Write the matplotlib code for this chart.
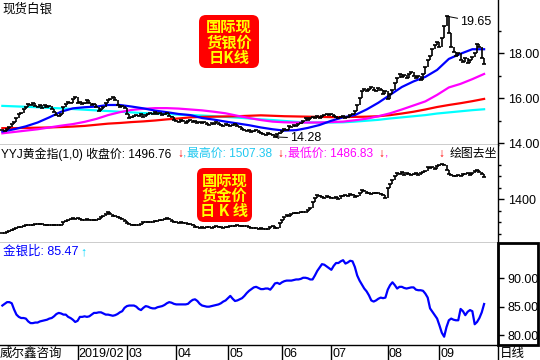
import numpy as np
import matplotlib.pyplot as plt
from matplotlib.patches import FancyBboxPatch, Rectangle
from matplotlib.lines import Line2D
from matplotlib.transforms import blended_transform_factory

plt.rcParams['font.family'] = ['Liberation Sans', 'Noto Sans CJK SC', 'DejaVu Sans']

# =============================================================================
# Data (daily bars, mid Dec 2018 -> end Sep 2019)
# =============================================================================
silver_close = [
    14.60, 14.55, 14.65, 14.70, 14.85, 14.95, 15.10, 15.30, 15.35, 15.50,
    15.60, 15.75, 15.70, 15.80, 15.65, 15.60, 15.70, 15.55, 15.70, 15.60,
    15.65, 15.50, 15.40, 15.25, 15.20, 15.30, 15.60, 15.75, 15.85, 15.80,
    15.95, 16.05, 15.80, 15.85, 15.75, 15.80, 15.90, 15.80, 15.70, 15.75,
    15.60, 15.45, 15.50, 15.60, 15.80, 15.90, 15.95, 16.05, 15.90, 15.70,
    15.60, 15.65, 15.55, 15.30, 15.10, 15.15, 15.20, 15.25, 15.20, 15.30,
    15.15, 15.25, 15.30, 15.35, 15.30, 15.40, 15.30, 15.35, 15.25, 15.30,
    15.35, 15.20, 15.15, 15.05, 15.00, 14.95, 15.05, 15.00, 14.90, 15.00,
    15.05, 14.95, 15.00, 14.90, 14.95, 14.90, 14.95, 14.85, 14.80, 14.90,
    14.85, 14.95, 14.85, 14.80, 14.75, 14.85, 14.80, 14.75, 14.80, 14.85,
    14.75, 14.70, 14.65, 14.60, 14.55, 14.60, 14.50, 14.55, 14.60, 14.50,
    14.45, 14.40, 14.35, 14.45, 14.40, 14.35, 14.28, 14.40, 14.45, 14.55,
    14.65, 14.60, 14.75, 14.70, 14.80, 14.75, 14.85, 14.90, 15.00, 15.10,
    15.05, 15.10, 15.15, 15.10, 15.20, 15.10, 15.20, 15.25, 15.30, 15.25,
    15.30, 15.20, 15.15, 15.10, 15.15, 15.20, 15.10, 15.15, 15.25, 15.30,
    15.45, 15.70, 16.00, 16.30, 16.40, 16.30, 16.40, 16.50, 16.35, 16.30,
    16.45, 16.35, 16.20, 16.30, 15.95, 16.20, 16.35, 16.70, 16.90, 17.10,
    16.95, 17.05, 16.90, 17.10, 17.15, 17.00, 16.90, 17.00, 16.80, 17.10,
    17.40, 17.70, 17.90, 18.20, 18.35, 18.50, 18.30, 18.70, 19.20, 19.65,
    18.90, 18.30, 18.05, 17.90, 18.00, 17.70, 17.60, 17.80, 17.55, 17.70,
    17.85, 18.00, 18.40, 18.30, 17.80, 17.51,
]

# moving averages, one value every 5 bars
ma_blue = [14.52, 14.62, 14.75, 14.92, 15.15, 15.40, 15.55, 15.60, 15.63, 15.70,
           15.70, 15.63, 15.55, 15.45, 15.38, 15.30, 15.25, 15.12, 15.05, 14.96,
           14.88, 14.80, 14.70, 14.62, 14.56, 14.58, 14.68, 14.81, 15.00, 15.15,
           15.25, 15.50, 15.80, 16.15, 16.50, 16.75, 16.95, 17.26, 17.75, 17.98,
           18.18, 18.18]
ma_magenta = [14.44, 14.50, 14.56, 14.62, 14.70, 14.78, 14.85, 14.95, 15.08, 15.25,
              15.38, 15.48, 15.53, 15.56, 15.56, 15.54, 15.50, 15.46, 15.40, 15.33,
              15.22, 15.12, 15.03, 14.96, 14.93, 14.92, 14.92, 14.92, 14.94, 14.96,
              15.02, 15.09, 15.20, 15.33, 15.50, 15.68, 15.86, 16.15, 16.48, 16.64,
              16.85, 17.08]
ma_red = [14.67, 14.67, 14.68, 14.69, 14.70, 14.72, 14.74, 14.77, 14.82, 14.87,
          14.90, 14.94, 14.97, 15.01, 15.06, 15.10, 15.15, 15.17, 15.18, 15.19,
          15.20, 15.22, 15.24, 15.22, 15.20, 15.19, 15.18, 15.17, 15.16, 15.16,
          15.17, 15.18, 15.20, 15.25, 15.32, 15.40, 15.50, 15.61, 15.70, 15.78,
          15.87, 15.97]
ma_cyan = [15.66, 15.64, 15.62, 15.60, 15.57, 15.55, 15.52, 15.49, 15.46, 15.43,
           15.40, 15.37, 15.34, 15.32, 15.30, 15.27, 15.25, 15.23, 15.20, 15.17,
           15.14, 15.10, 15.06, 15.03, 14.99, 14.95, 14.92, 14.92, 14.92, 14.93,
           14.96, 15.00, 15.04, 15.10, 15.15, 15.20, 15.25, 15.32, 15.37, 15.42,
           15.47, 15.51]
ma_step = 5

gold_close = [
    1251, 1253, 1258, 1262, 1266, 1270, 1274, 1278, 1280, 1283,
    1285, 1287, 1286, 1289, 1291, 1290, 1292, 1290, 1288, 1287,
    1289, 1286, 1288, 1285, 1287, 1289, 1298, 1305, 1309, 1312,
    1316, 1314, 1317, 1312, 1310, 1308, 1311, 1309, 1307, 1310,
    1308, 1315, 1320, 1325, 1335, 1342, 1333, 1328, 1324, 1322,
    1318, 1314, 1305, 1296, 1290, 1288, 1286, 1289, 1287, 1292,
    1299, 1301, 1298, 1302, 1300, 1304, 1306, 1309, 1307, 1312,
    1316, 1313, 1305, 1302, 1298, 1296, 1299, 1297, 1295, 1293,
    1290, 1285, 1280, 1277, 1276, 1278, 1275, 1277, 1280, 1276,
    1278, 1281, 1277, 1279, 1276, 1278, 1280, 1282, 1281, 1283,
    1285, 1282, 1284, 1283, 1281, 1277, 1274, 1276, 1272, 1270,
    1273, 1269, 1271, 1268, 1280, 1282, 1276, 1274, 1295, 1309,
    1322, 1330, 1328, 1334, 1337, 1339, 1341, 1343, 1342, 1345,
    1352, 1360, 1388, 1405, 1417, 1412, 1410, 1405, 1412, 1408,
    1403, 1406, 1410, 1398, 1412, 1415, 1417, 1414, 1420, 1416,
    1410, 1412, 1425, 1439, 1433, 1426, 1426, 1422, 1428, 1424,
    1426, 1420, 1417, 1405, 1446, 1465, 1483, 1500, 1512, 1509,
    1519, 1505, 1512, 1508, 1503, 1510, 1512, 1506, 1515, 1519,
    1523, 1540, 1535, 1540, 1530, 1545, 1548, 1552, 1548, 1526,
    1510, 1506, 1502, 1498, 1504, 1500, 1510, 1507, 1512, 1505,
    1514, 1520, 1526, 1516, 1508, 1496.76,
]

ratio = [
    85.2, 85.5, 85.8, 85.8, 85.6, 84.5, 83.6, 83.2, 83.0, 83.0,
    82.9, 82.4, 82.1, 82.1, 82.2, 82.2, 82.4, 82.5, 82.6, 82.7,
    82.9, 83.0, 83.3, 83.7, 83.9, 83.8, 83.6, 83.6, 83.2, 83.0,
    82.7, 82.3, 82.5, 83.2, 83.2, 83.3, 83.2, 83.3, 83.6, 83.9,
    83.9, 84.0, 84.0, 83.8, 83.6, 83.6, 83.5, 83.4, 83.5, 83.7,
    84.0, 84.2, 84.8, 85.1, 85.2, 85.2, 85.2, 85.0, 84.6, 84.4,
    84.8, 85.1, 85.0, 84.8, 84.7, 84.7, 84.9, 85.0, 85.1, 85.3,
    85.6, 85.8, 85.7, 85.5, 85.4, 85.4, 85.4, 85.4, 85.4, 85.5,
    85.9, 86.2, 86.3, 86.0, 85.5, 85.2, 85.1, 85.0, 85.0, 85.1,
    85.2, 85.3, 85.4, 85.6, 85.9, 86.1, 86.5, 86.9, 86.4, 86.0,
    86.1, 86.3, 86.5, 86.9, 87.4, 87.8, 88.1, 88.4, 88.5, 88.3,
    88.1, 88.1, 88.2, 88.2, 88.0, 88.5, 89.1, 89.2, 89.0, 89.3,
    89.5, 89.6, 89.6, 89.6, 89.7, 89.8, 89.8, 89.9, 90.1, 90.1,
    90.0, 89.8, 89.8, 90.5, 91.3, 91.9, 92.5, 92.4, 92.1, 91.8,
    91.5, 92.2, 92.7, 92.7, 93.0, 93.2, 92.6, 92.8, 93.1, 93.0,
    92.0, 90.5, 89.6, 88.9, 88.2, 87.7, 87.0, 86.1, 85.9, 86.1,
    86.4, 86.6, 86.5, 86.6, 88.0, 88.8, 89.3, 88.8, 88.2, 88.5,
    88.5, 88.3, 88.2, 88.3, 88.4, 88.4, 88.0, 87.9, 87.9, 87.8,
    87.3, 86.6, 84.7, 84.1, 83.5, 82.9, 81.7, 80.4, 79.7, 81.4,
    82.6, 82.9, 82.7, 82.6, 82.6, 84.6, 84.2, 83.5, 84.1, 84.4,
    84.2, 81.9, 82.3, 83.0, 84.0, 85.47,
]

month_idx = [32, 53, 74, 96, 119, 140, 164, 186]
month_labels = ['2019/02', '03', '04', '05', '06', '07', '08', '09']

silver_ticks = [14, 16, 18]
gold_ticks = [1400]
ratio_ticks = [80, 85, 90]

# =============================================================================
# Layout helpers (pixel based, 540x360 canvas)
# =============================================================================
W, H = 540, 360
PLOT_R = 498
fig = plt.figure(figsize=(W / 100, H / 100), dpi=100)
fig.patch.set_facecolor('white')


def px_axes(y0, y1):
    return fig.add_axes([0, 1 - y1 / H, PLOT_R / W, (y1 - y0) / H])


def ftext(x, y, s, **kw):
    kw.setdefault('fontsize', 9)
    kw.setdefault('va', 'center')
    return fig.text(x / W, 1 - y / H, s, **kw)


def style_axes(ax, ylim, ticks, fmt, minor=None):
    ax.set_xlim(-1, PLOT_R / 2.35 - 1)
    ax.set_ylim(*ylim)
    for side in ('left', 'top'):
        ax.spines[side].set_visible(False)
    for side in ('right', 'bottom'):
        ax.spines[side].set_linewidth(1.0)
    ax.yaxis.tick_right()
    ax.set_yticks(ticks)
    ax.set_yticklabels([fmt % t for t in ticks])
    if minor is not None:
        ax.set_yticks(minor, minor=True)
    ax.tick_params(axis='y', which='major', direction='out', length=4, width=1,
                   pad=3, labelsize=9)
    ax.tick_params(axis='y', which='minor', direction='out', length=2.5, width=1)
    ax.set_xticks([])


def draw_bars(ax, close):
    close = np.asarray(close, dtype=float)
    x = np.arange(len(close))
    opn = np.r_[close[0], close[:-1]]
    ax.vlines(x, np.minimum(opn, close), np.maximum(opn, close), color='k', lw=1.2)
    ax.plot(x, close, ls='none', marker='_', ms=2.8, mew=1.2, color='k')


def red_box(x0, y0, x1, y1, lines):
    box = FancyBboxPatch((x0 / 100, (H - y1) / 100), (x1 - x0) / 100, (y1 - y0) / 100,
                         boxstyle='round,pad=0,rounding_size=0.07',
                         transform=fig.dpi_scale_trans, fc='#ff0000', ec='none')
    fig.add_artist(box)
    ftext((x0 + x1) / 2, (y0 + y1) / 2 + 1, '\n'.join(lines), ha='center',
          fontsize=11, fontweight='bold', linespacing=0.95, color='#ffff00',
          family=['Noto Sans CJK SC'])


# =============================================================================
# Silver panel
# =============================================================================
ax1 = px_axes(0, 145)
style_axes(ax1, (13.92, 20.37), silver_ticks, '%.2f', minor=[15, 17, 19])
ma_x = np.arange(len(ma_blue)) * ma_step
ax1.plot(ma_x, ma_cyan, color='#00ffff', lw=1.6)
ax1.plot(ma_x, ma_red, color='#ff0000', lw=1.6)
ax1.plot(ma_x, ma_magenta, color='#ff00ff', lw=1.6)
ax1.plot(ma_x, ma_blue, color='#0000ff', lw=1.6)
draw_bars(ax1, silver_close)

hi = int(np.argmax(silver_close))
lo = int(np.argmin(silver_close))
ax1.annotate('%.2f' % silver_close[hi], xy=(hi, silver_close[hi]), xytext=(10, -4),
             textcoords='offset points', fontsize=9, va='center', ha='left',
             arrowprops=dict(arrowstyle='-', lw=0.7, color='k', shrinkA=0, shrinkB=0))
ax1.annotate('%.2f' % silver_close[lo], xy=(lo, silver_close[lo]), xytext=(11, -1),
             textcoords='offset points', fontsize=9, va='center', ha='left',
             arrowprops=dict(arrowstyle='->', lw=0.7, color='k', shrinkA=0, shrinkB=0,
                             mutation_scale=5))

ftext(2, 9, '现货白银')
red_box(199, 15, 259, 68, ['国际现', '货银价', '日K线'])

# =============================================================================
# Gold panel
# =============================================================================
ax2 = px_axes(145, 243)
style_axes(ax2, (1208.7, 1634.8), gold_ticks, '%d',
           minor=[1250, 1300, 1350, 1450, 1500, 1550])
draw_bars(ax2, gold_close)

hy = 154
hs = 8.6
ftext(1, hy, 'YYJ黄金指(1,0) 收盘价: %.2f' % gold_close[-1], fontsize=hs)
ftext(177, hy, '↓', color='#ff0000', fontsize=hs)
ftext(183, hy, ',', color='#20c8f0', fontsize=hs)
ftext(187, hy, '最高价: 1507.38', color='#20c8f0', fontsize=hs)
ftext(277, hy, '↓', color='#ff0000', fontsize=hs)
ftext(284, hy, ',', color='#ff00ff', fontsize=hs)
ftext(288, hy, '最低价: 1486.83', color='#ff00ff', fontsize=hs)
ftext(378, hy, '↓', color='#ff0000', fontsize=hs)
ftext(385, hy, ',', color='#ff00ff', fontsize=hs)
ftext(438, hy, '↓', color='#ff0000', fontsize=hs)
ftext(450, hy, '绘图去坐', fontsize=hs)
red_box(197, 168, 252, 222, ['国际现', '货金价', '日 K 线'])

# =============================================================================
# Gold / silver ratio panel
# =============================================================================
ax3 = px_axes(243, 345)
style_axes(ax3, (78.24, 96.23), ratio_ticks, '%.2f')
ax3.plot(np.arange(len(ratio)), ratio, color='#0000ff', lw=1.6)
ftext(3, 252, '金银比: %.2f' % ratio[-1], color='#0000ff')
ftext(80, 252, '↑', color='#00d8ff')

# month ticks in the date strip
ax3.set_xticks(month_idx)
ax3.set_xticklabels([])
ax3.tick_params(axis='x', direction='out', length=11, width=1)
trans = blended_transform_factory(ax3.transData, fig.transFigure)
for idx, lab in zip(month_idx, month_labels):
    ax3.text(idx + 0.5, 1 - 354 / H, lab, transform=trans, fontsize=9,
             ha='left', va='center')

ftext(0, 354, '威尔鑫咨询')
ftext(500, 354, '日线')

# frame around the active axis area + axis line through the date strip
fig.add_artist(Rectangle((PLOT_R / W, 1 - 345 / H), 40 / W, 102 / H,
                         transform=fig.transFigure, fill=False, lw=2, ec='k'))
fig.add_artist(Line2D([PLOT_R / W, PLOT_R / W], [0, 1 - 345 / H],
                      transform=fig.transFigure, color='k', lw=1))

fig.savefig('out.png', dpi=100, facecolor='white')
